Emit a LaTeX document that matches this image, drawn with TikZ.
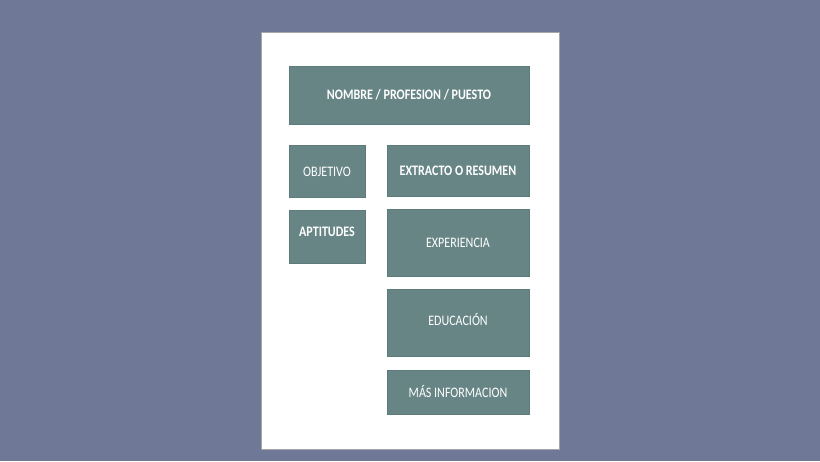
\documentclass[tikz,border=0pt]{standalone}
\usepackage{fontspec}
\setmainfont{Carlito}
\definecolor{bgc}{HTML}{6F7896}
\definecolor{boxc}{HTML}{688586}
\definecolor{boxe}{HTML}{5E7A7B}
\newcommand{\lblr}[1]{\scalebox{0.83}[1]{\fontsize{14.5}{16}\selectfont #1}}
\newcommand{\lblb}[1]{\scalebox{0.83}[1]{\fontsize{14.5}{16}\selectfont\bfseries #1}}
\begin{document}
\begin{tikzpicture}[x=1pt,y=-1pt,
  sect/.style={fill=boxc,draw=boxe,line width=0.6pt},
  lbl/.style={text=white,inner sep=0pt}]
\fill[bgc] (0,0) rectangle (820,461);
\useasboundingbox (0,0) rectangle (820,461);
\draw[fill=white,draw=gray!70,line width=0.6pt] (261,32) rectangle (559,449);
\draw[sect] (289,66) rectangle (529,124);
\draw[sect] (289,145) rectangle (365,197);
\draw[sect] (387,145) rectangle (529,196);
\draw[sect] (289,210) rectangle (365,263);
\draw[sect] (387,209) rectangle (529,276);
\draw[sect] (387,289) rectangle (529,356);
\draw[sect] (387,370) rectangle (529,414);
\node[lbl] (nombre) at (409,95) {\lblb{NOMBRE / PROFESION / PUESTO}};
\node[lbl] (obj) at (327,171.5) {\lblr{OBJETIVO}};
\node[lbl] (ext) at (458,171) {\lblb{EXTRACTO O RESUMEN}};
\node[lbl] (apt) at (327,231.5) {\lblb{APTITUDES}};
\node[lbl] (exp) at (458,243) {\lblr{EXPERIENCIA}};
\node[lbl] (edu) at (458,319.5) {\lblr{EDUCACIÓN}};
\node[lbl] (mas) at (458,391.5) {\lblr{MÁS INFORMACION}};
\end{tikzpicture}
\end{document}
